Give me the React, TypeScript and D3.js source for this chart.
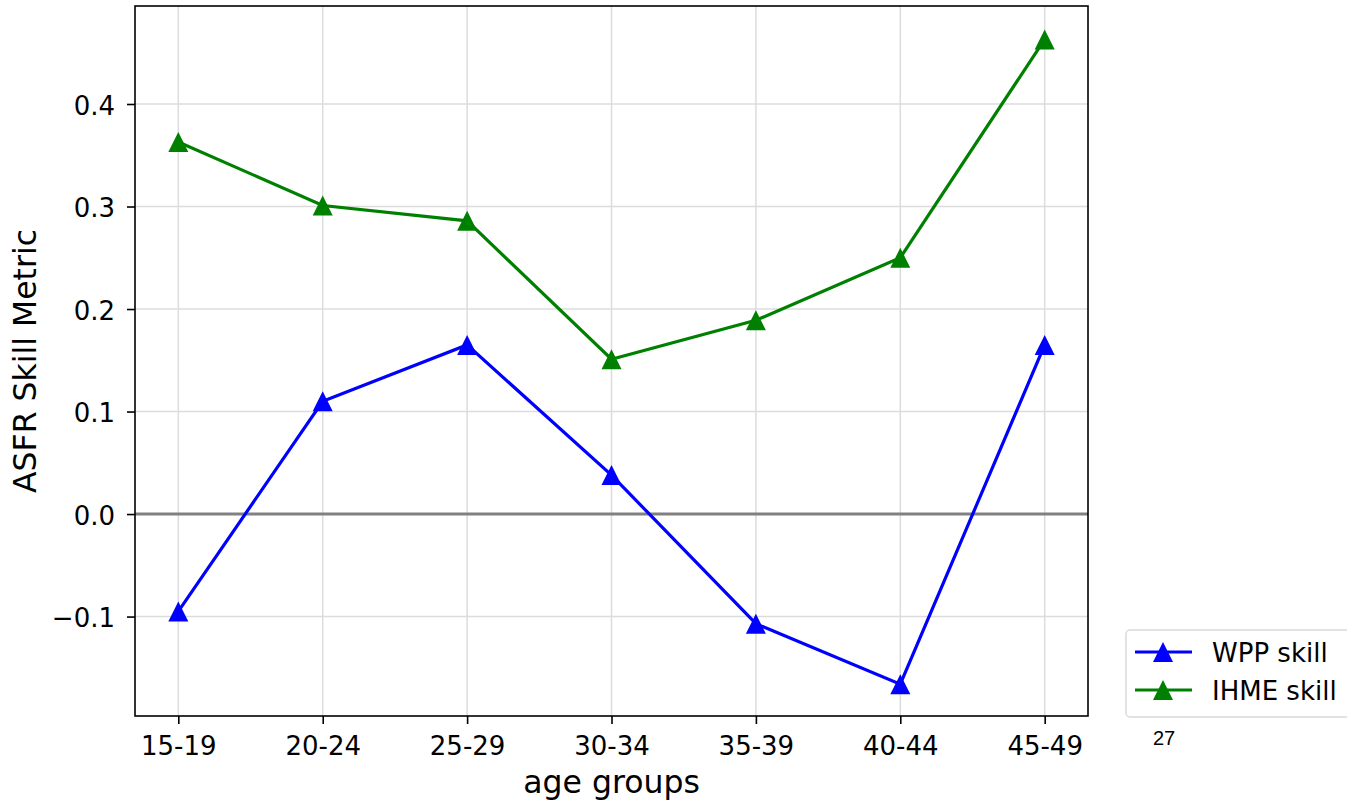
import React, { useEffect, useRef } from "react";
import * as d3 from "d3";

const ageGroups = ["15-19", "20-24", "25-29", "30-34", "35-39", "40-44", "45-49"];
const wppSkill = [-0.095, 0.110, 0.165, 0.038, -0.107, -0.166, 0.165];
const ihmeSkill = [0.363, 0.301, 0.286, 0.151, 0.189, 0.250, 0.463];
const yTicks = [-0.1, 0.0, 0.1, 0.2, 0.3, 0.4];

const series = [
    { name: "WPP skill", values: wppSkill, color: "#0000ff" },
    { name: "IHME skill", values: ihmeSkill, color: "#008000" },
];

// matplotlib '^' marker: width == height, centred on the bbox
const mplTriangle = {
    draw(ctx: any, size: number) {
        const r = Math.sqrt(size) / 2;
        ctx.moveTo(0, -r);
        ctx.lineTo(r, r);
        ctx.lineTo(-r, r);
        ctx.closePath();
    },
};

function App() {
    const ref = useRef<SVGSVGElement>(null);

    useEffect(() => {
        const svg = d3.select(ref.current);
        svg.selectAll("*").remove();

        const left = 135, right = 1088, top = 6, bottom = 716;
        const font = "DejaVu Sans, sans-serif";

        const x = d3.scaleLinear().domain([-0.3, ageGroups.length - 1 + 0.3]).range([left, right]);
        const y = d3.scaleLinear().domain([-0.197, 0.4956]).range([bottom, top]);

        const g = svg.append("g");

        // grid
        g.selectAll(".gx").data(ageGroups).join("line")
            .attr("x1", (d, i) => x(i)).attr("x2", (d, i) => x(i))
            .attr("y1", top).attr("y2", bottom)
            .attr("stroke", "#dcdcdc").attr("stroke-width", 1.5);
        g.selectAll(".gy").data(yTicks).join("line")
            .attr("x1", left).attr("x2", right)
            .attr("y1", d => y(d)).attr("y2", d => y(d))
            .attr("stroke", "#dcdcdc").attr("stroke-width", 1.5);

        // zero line
        g.append("line")
            .attr("x1", left).attr("x2", right)
            .attr("y1", y(0)).attr("y2", y(0))
            .attr("stroke", "#808080").attr("stroke-width", 3);

        // lines + markers
        const line = d3.line<number>()
            .x((d, i) => x(i))
            .y(d => y(d));
        const tri = d3.symbol().type(mplTriangle as any).size(400);

        series.forEach(s => {
            g.append("path")
                .datum(s.values)
                .attr("fill", "none")
                .attr("stroke", s.color)
                .attr("stroke-width", 3.2)
                .attr("d", line);
            g.selectAll(null).data(s.values).join("path")
                .attr("d", tri)
                .attr("transform", (d, i) => `translate(${x(i)},${y(d)})`)
                .attr("fill", s.color);
        });

        // frame
        g.append("rect")
            .attr("x", left).attr("y", top)
            .attr("width", right - left).attr("height", bottom - top)
            .attr("fill", "none").attr("stroke", "#000").attr("stroke-width", 1.6);

        // x axis
        const xAxis = svg.append("g")
            .attr("transform", `translate(0,${bottom})`)
            .call(d3.axisBottom(x).tickValues(d3.range(ageGroups.length))
                .tickFormat(i => ageGroups[+i]).tickSize(8).tickSizeOuter(0));
        xAxis.select(".domain").remove();
        xAxis.selectAll("line").attr("stroke-width", 1.6);
        xAxis.selectAll("text").attr("font-size", 26).attr("font-family", font).attr("fill", "#000")
            .attr("dy", null).attr("y", 39);

        // y axis
        const yAxis = svg.append("g")
            .attr("transform", `translate(${left},0)`)
            .call(d3.axisLeft(y).tickValues(yTicks)
                .tickFormat(d => d3.format(".1f")(+d).replace("-", "\u2212")).tickSize(8).tickPadding(12));
        yAxis.select(".domain").remove();
        yAxis.selectAll("line").attr("stroke-width", 1.6);
        yAxis.selectAll("text").attr("font-size", 26).attr("font-family", font).attr("fill", "#000")
            .attr("dy", "0.4em");

        // axis labels
        svg.append("text")
            .attr("x", (left + right) / 2).attr("y", 793)
            .attr("text-anchor", "middle")
            .attr("font-size", 31.5).attr("font-family", font)
            .text("age groups");
        svg.append("text")
            .attr("transform", `translate(36,${(top + bottom) / 2}) rotate(-90)`)
            .attr("text-anchor", "middle")
            .attr("font-size", 31.5).attr("font-family", font)
            .text("ASFR Skill Metric");

        // legend
        const lg = svg.append("g").attr("transform", "translate(1126,630)");
        lg.append("rect")
            .attr("x", 0).attr("y", 0).attr("width", 232).attr("height", 87)
            .attr("rx", 4)
            .attr("fill", "#fff").attr("stroke", "#d9d9d9").attr("stroke-width", 1.5);
        series.forEach((s, i) => {
            const cy = 22 + i * 38;
            lg.append("line")
                .attr("x1", 9).attr("x2", 66).attr("y1", cy).attr("y2", cy)
                .attr("stroke", s.color).attr("stroke-width", 3.2);
            lg.append("path")
                .attr("d", tri)
                .attr("transform", `translate(37,${cy})`)
                .attr("fill", s.color);
            lg.append("text")
                .attr("x", 86).attr("y", cy + 10)
                .attr("font-size", 26).attr("font-family", font)
                .text(s.name);
        });

        svg.append("text")
            .attr("x", 1153).attr("y", 745)
            .attr("font-size", 20).attr("font-family", "Liberation Sans, Arial, sans-serif")
            .text("27");
    }, []);

    return (
        <svg ref={ref} width={1347} height={804}
             style={{ position: "absolute", left: 0, top: 0, background: "#fff" }} />
    );
}

export default App;
